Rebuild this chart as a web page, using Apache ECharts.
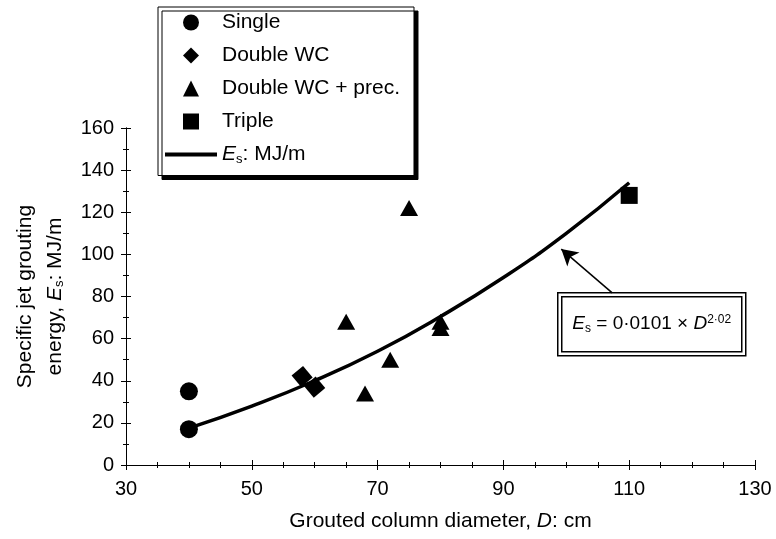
<!DOCTYPE html>
<html>
<head>
<meta charset="utf-8">
<script src="https://cdn.jsdelivr.net/npm/echarts@6/dist/echarts.min.js"></script>
<style>
  html, body { margin: 0; padding: 0; background: #fff; }
  main { width: 776px; height: 539px; }
</style>
</head>
<body>
<main></main>
<script>
// points: [D cm, Es MJ/m]
const single = [[40, 35], [40, 17]]
const doubleWC = [[58, 42], [60, 37]]
const doubleWCPrec = [[65, 68], [68, 34], [72, 50], [75, 122], [80, 68], [80, 65]]
const triple = [[110, 128]]

// fitted curve
const curveD = [40, 50, 60, 70, 80, 90, 100, 110]
const curveE = [17.5, 28, 40, 54, 70.5, 89, 110, 134]

const xTicks = [30, 50, 70, 90, 110, 130]
const yTicks = [0, 20, 40, 60, 80, 100, 120, 140, 160]

;(function () {
  const font = 'Arial, "Liberation Sans", sans-serif'
  const ink = '#000'
  const chart = echarts.init(document.querySelector('main'))

  const sub = { fontSize: 13, fontFamily: font, color: ink, padding: [9, 0, 0, 0] }
  const ital = { fontSize: 21, fontFamily: font, color: ink, fontStyle: 'italic' }

  const baseAxis = {
    axisLine: { lineStyle: { color: ink, width: 1 } },
    splitLine: { show: false },
  }

  function xAxis(inside, withLabels) {
    return Object.assign({}, baseAxis, {
      type: 'value',
      min: xTicks[0],
      max: xTicks[xTicks.length - 1],
      interval: 20,
      position: 'bottom',
      axisTick: { show: true, inside, length: 5, lineStyle: { color: ink } },
      minorTick: { show: true, splitNumber: 4, length: 3, lineStyle: { color: ink } },
      axisLabel: { show: withLabels, fontSize: 20, fontFamily: font, color: ink, margin: 14 },
      name: withLabels ? 'Grouted column diameter, {i|D}: cm' : '',
      nameLocation: 'middle',
      nameGap: 46,
      nameTextStyle: { fontSize: 21, fontFamily: font, color: ink, rich: { i: ital } },
    })
  }

  function yAxis(inside, withLabels) {
    return Object.assign({}, baseAxis, {
      type: 'value',
      min: yTicks[0],
      max: yTicks[yTicks.length - 1],
      interval: 20,
      position: 'left',
      axisTick: { show: true, inside, length: 5, lineStyle: { color: ink } },
      minorTick: { show: true, splitNumber: 2, length: 3, lineStyle: { color: ink } },
      axisLabel: { show: withLabels, fontSize: 20, fontFamily: font, color: ink, margin: 12 },
      name: withLabels ? 'Specific jet grouting\nenergy, {i|E}{s|s}: MJ/m' : '',
      nameLocation: 'middle',
      nameRotate: 90,
      nameGap: 56,
      nameTextStyle: {
        fontSize: 21,
        fontFamily: font,
        color: ink,
        lineHeight: 30,
        rich: {
          i: Object.assign({}, ital, { lineHeight: 30 }),
          s: Object.assign({}, sub, { lineHeight: 30 }),
        },
      },
    })
  }

  const dot = { color: ink, opacity: 1 }

  chart.setOption({
    animation: false,
    backgroundColor: '#fff',
    textStyle: { fontFamily: font },
    grid: { left: 126, right: 21, top: 128, bottom: 74, outerBoundsMode: 'none', containLabel: false },
    xAxis: [xAxis(false, true), xAxis(true, false)],
    yAxis: [yAxis(false, true), yAxis(true, false)],
    legend: {
      orient: 'vertical',
      left: 158,
      top: 7,
      padding: [5, 14, 10, 7],
      itemWidth: 52,
      itemHeight: 16,
      itemGap: 12,
      symbolKeepAspect: true,
      backgroundColor: '#fff',
      borderColor: ink,
      borderWidth: 1,
      borderRadius: 0,
      shadowColor: ink,
      shadowBlur: 0,
      shadowOffsetX: 4,
      shadowOffsetY: 4,
      textStyle: {
        fontSize: 21,
        fontFamily: font,
        color: ink,
        rich: { i: ital, s: sub },
      },
      formatter: (name) => (name === 'Es' ? '{i|E}{s|s}: MJ/m' : name),
      data: [
        { name: 'Single', icon: 'path://M10,5A5,5,0,1,1,0,5A5,5,0,1,1,10,5Z', itemStyle: dot },
        { name: 'Double WC', icon: 'path://M5,0L10,5L5,10L0,5Z', itemStyle: dot },
        { name: 'Double WC + prec.', icon: 'path://M5,0L10,10L0,10Z', itemStyle: dot },
        { name: 'Triple', icon: 'path://M0,0H10V10H0Z', itemStyle: dot },
        { name: 'Es', icon: 'path://M0,0H52V4H0Z', itemStyle: dot },
      ],
    },
    series: [
      {
        name: 'Es',
        type: 'line',
        smooth: true,
        symbol: 'none',
        z: 1,
        lineStyle: { color: ink, width: 3.5 },
        itemStyle: { color: ink },
        data: curveD.map((d, i) => [d, curveE[i]]),
        markLine: {
          silent: true,
          symbol: ['none', 'arrow'],
          symbolSize: [14, 16],
          label: { show: false },
          lineStyle: { color: ink, width: 1.5, type: 'solid' },
          data: [[{ coord: [107.3, 81.7] }, { coord: [99.2, 102.5] }]],
        },
      },
      { name: 'Single', type: 'scatter', symbol: 'circle', symbolSize: 18, itemStyle: dot, data: single, z: 3 },
      { name: 'Double WC', type: 'scatter', symbol: 'rect', symbolSize: 15, symbolRotate: 40, itemStyle: dot, data: doubleWC, z: 3 },
      { name: 'Double WC + prec.', type: 'scatter', symbol: 'triangle', symbolSize: [18, 16], itemStyle: dot, data: doubleWCPrec, z: 3 },
      { name: 'Triple', type: 'scatter', symbol: 'rect', symbolSize: 17, itemStyle: dot, data: triple, z: 3 },
    ],
    graphic: [
      {
        type: 'group',
        left: 557,
        top: 292,
        children: [
          { type: 'rect', shape: { x: 0, y: 0, width: 188, height: 63 }, style: { fill: '#fff', stroke: ink, lineWidth: 1.5 } },
          { type: 'rect', shape: { x: 4, y: 4, width: 180, height: 55 }, style: { fill: 'none', stroke: ink, lineWidth: 1.5 } },
          {
            type: 'text',
            x: 94,
            y: 31,
            style: {
              text: '{i|E}{sb|s} = 0\u00b70101 \u00d7 {i|D}{sp|2\u00b702}',
              align: 'center',
              verticalAlign: 'middle',
              fontSize: 19,
              fontFamily: font,
              fill: ink,
              rich: {
                i: { fontSize: 19, fontStyle: 'italic', fontFamily: font, fill: ink },
                sb: { fontSize: 12, fontFamily: font, fill: ink, padding: [9, 0, 0, 0] },
                sp: { fontSize: 12, fontFamily: font, fill: ink, padding: [0, 0, 9, 0] },
              },
            },
          },
        ],
      },
    ],
  })
})()
</script>
</body>
</html>
